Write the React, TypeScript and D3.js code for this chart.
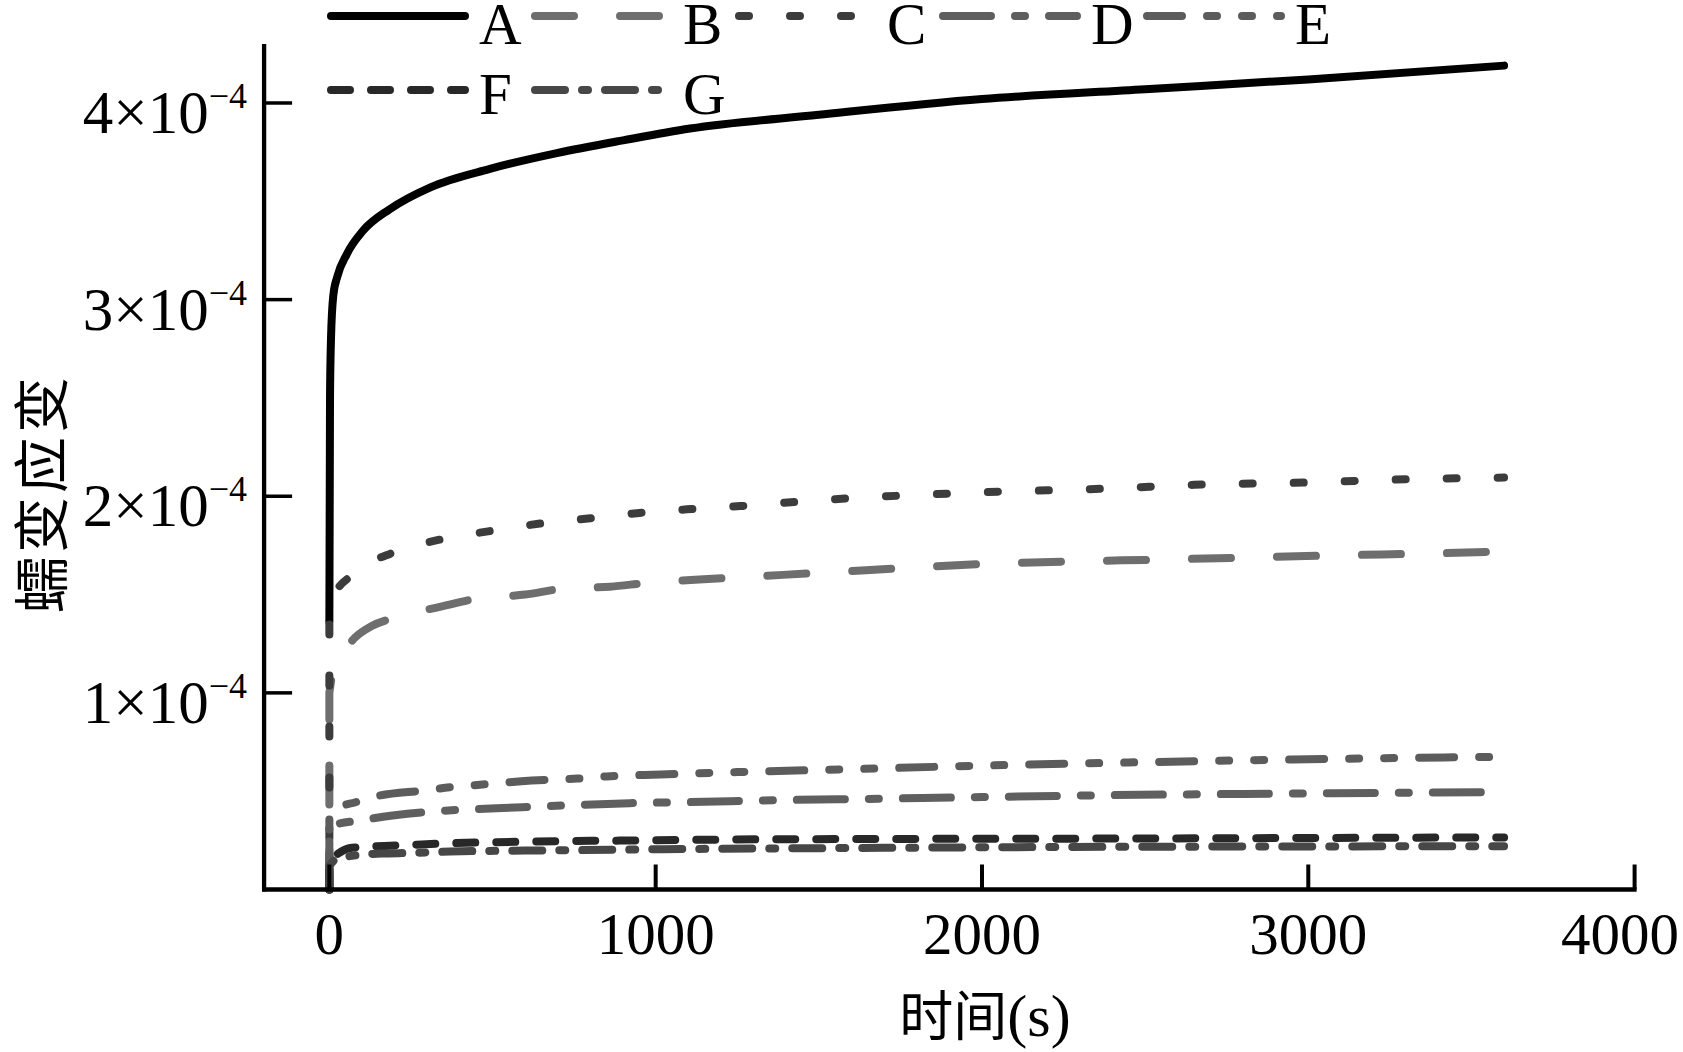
import React from 'react';
import * as d3 from 'd3';

// ---------- data ----------
const seriesNames = ['A', 'B', 'C', 'D', 'E', 'F', 'G'];

const timeA = [0, 2, 5, 12, 25, 53, 103, 185, 308, 492, 697, 900, 1105, 1500, 2000, 2500, 3000, 3600];
const strainA = [1.36e-4, 2.5e-4, 2.8e-4, 3.02e-4, 3.12e-4, 3.23e-4, 3.35e-4, 3.46e-4, 3.57e-4, 3.665e-4, 3.745e-4, 3.81e-4, 3.87e-4, 3.94e-4, 4.02e-4, 4.07e-4, 4.12e-4, 4.19e-4];

const timeB = [0, 0, 11, 40, 78, 130, 195, 345, 455, 600, 717, 860, 977, 1120, 1500, 2000, 2600, 2850, 3100, 3400, 3600];
const strainB = [0, 1.0e-4, 1.11e-4, 1.2e-4, 1.28e-4, 1.34e-4, 1.38e-4, 1.44e-4, 1.48e-4, 1.5e-4, 1.53e-4, 1.54e-4, 1.56e-4, 1.575e-4, 1.61e-4, 1.655e-4, 1.68e-4, 1.69e-4, 1.7e-4, 1.71e-4, 1.72e-4];

const timeC = [0, 0, 30, 63, 110, 190, 340, 500, 650, 800, 950, 1110, 1260, 1500, 2000, 2400, 2650, 3000, 3300, 3600];
const strainC = [0, 1.45e-4, 1.54e-4, 1.59e-4, 1.65e-4, 1.71e-4, 1.78e-4, 1.825e-4, 1.862e-4, 1.888e-4, 1.915e-4, 1.935e-4, 1.95e-4, 1.98e-4, 2.02e-4, 2.04e-4, 2.058e-4, 2.07e-4, 2.086e-4, 2.095e-4];

const timeD = [0, 0, 20, 90, 200, 345, 425, 590, 760, 920, 1150, 1300, 1700, 2000, 2400, 2800, 3200, 3600];
const strainD = [0, 3.0e-5, 3.3e-5, 3.5e-5, 3.78e-5, 4.0e-5, 4.07e-5, 4.18e-5, 4.3e-5, 4.39e-5, 4.46e-5, 4.52e-5, 4.62e-5, 4.7e-5, 4.8e-5, 4.86e-5, 4.91e-5, 4.95e-5];

const timeE = [0, 0, 20, 80, 155, 287, 370, 470, 620, 760, 850, 1015, 1250, 1600, 2000, 2450, 2950, 3330, 3600];
const strainE = [0, 3.8e-5, 4.1e-5, 4.44e-5, 4.78e-5, 5.03e-5, 5.2e-5, 5.34e-5, 5.54e-5, 5.64e-5, 5.75e-5, 5.85e-5, 5.97e-5, 6.12e-5, 6.3e-5, 6.46e-5, 6.61e-5, 6.7e-5, 6.75e-5];

const timeF = [0, 0, 20, 60, 130, 250, 370, 490, 730, 975, 1215, 1700, 2400, 3000, 3600];
const strainF = [0, 1.5e-5, 1.75e-5, 2.1e-5, 2.19e-5, 2.27e-5, 2.35e-5, 2.4e-5, 2.46e-5, 2.5e-5, 2.54e-5, 2.57e-5, 2.59e-5, 2.62e-5, 2.65e-5];

const timeG = [0, 0, 20, 55, 160, 250, 370, 600, 880, 1020, 1180, 1700, 2400, 3000, 3600];
const strainG = [0, 1.2e-5, 1.55e-5, 1.68e-5, 1.83e-5, 1.86e-5, 1.93e-5, 1.98e-5, 2.02e-5, 2.05e-5, 2.07e-5, 2.12e-5, 2.17e-5, 2.19e-5, 2.2e-5];

const xTicks = [0, 1000, 2000, 3000, 4000];
const yTickMantissas = [1, 2, 3, 4];
const yTickExponent = -4;

const xTitle = '时间';
const xTitleUnit = '(s)';
const yTitle = '蠕变应变';

// ---------- styles ----------
const colors = ['#000000', '#6e6e6e', '#3c3c3c', '#5f5f5f', '#5c5c5c', '#282828', '#474747'];
const dashes = ['', '39 46', '10 41', '48 24 10 24', '35 25 10 25 10 25', '19 21', '30 17 6 17'];

const times = [timeA, timeB, timeC, timeD, timeE, timeF, timeG];
const strains = [strainA, strainB, strainC, strainD, strainE, strainF, strainG];

const W = 1683;
const H = 1052;
const SERIF = '"Liberation Serif", "Times New Roman", serif';
const CJK = '"Noto Sans CJK SC", sans-serif';

export default function App() {
  const x = d3.scaleLinear().domain([-200, 4000]).range([264.1, 1634.6]);
  const y = d3.scaleLinear().domain([0, 4.3e-4]).range([889.5, 44]);

  const lineGen = d3.line<[number, number]>().curve(d3.curveMonotoneX);

  const buildPath = (ts: number[], es: number[]) => {
    let k = 0;
    while (k + 1 < ts.length && ts[k + 1] === ts[0]) k++;
    const head = ts.slice(0, k + 1).map((t, i) => `${x(t)},${y(es[i])}`);
    const tailPts: [number, number][] = ts.slice(k).map((t, i) => [x(t), y(es[i + k])]);
    const tail = (lineGen(tailPts) || '').replace(/^M[^CLZ]*/, '');
    return 'M' + head.join('L') + tail;
  };

  const axisY0 = y(0);
  const axisX0 = x(-200);
  const axisX1 = x(4000);
  const axisTop = y(4.3e-4);

  const legendStartX = 327;
  const legendStep = 204;
  const legendRowsLineY = [16, 90];
  const legendRowsTextY = [44, 114];
  const perRow = 5;

  return (
    <div style={{ position: 'absolute', left: 0, top: 0, width: W, height: H, background: '#fff' }}>
      <svg width={W} height={H} viewBox={`0 0 ${W} ${H}`} style={{ display: 'block' }}>
        <rect x={0} y={0} width={W} height={H} fill="#fff" />

        {/* curves */}
        {seriesNames.map((name, i) => (
          <path
            key={name}
            d={buildPath(times[i], strains[i])}
            fill="none"
            stroke={colors[i]}
            strokeWidth={8}
            strokeLinecap="round"
            strokeLinejoin="round"
            strokeDasharray={dashes[i] || undefined}
          />
        ))}

        {/* axes */}
        <line x1={axisX0} y1={axisTop} x2={axisX0} y2={axisY0 + 2} stroke="#000" strokeWidth={4.3} />
        <line x1={axisX0 - 2} y1={axisY0} x2={axisX1 + 2} y2={axisY0} stroke="#000" strokeWidth={4.3} />

        {xTicks.map((t, i) => {
          const last = i === xTicks.length - 1;
          return (
            <g key={t}>
              <line x1={x(t)} y1={axisY0} x2={x(t)} y2={axisY0 - 25} stroke="#000" strokeWidth={4} />
              <text
                x={last ? W - 4 : x(t)}
                y={954}
                textAnchor={last ? 'end' : 'middle'}
                fontFamily={SERIF}
                fontSize={59}
              >
                {t}
              </text>
            </g>
          );
        })}

        {yTickMantissas.map((m) => {
          const v = m * Math.pow(10, yTickExponent);
          const ty = y(v);
          return (
            <g key={m}>
              <line x1={axisX0} y1={ty} x2={axisX0 + 28} y2={ty} stroke="#000" strokeWidth={3.5} />
              <text x={247} y={ty + 30} textAnchor="end" fontFamily={SERIF} fontSize={61}>
                <tspan>{`${m}×10`}</tspan>
                <tspan fontSize={36} dy={-25}>{`−${Math.abs(yTickExponent)}`}</tspan>
              </text>
            </g>
          );
        })}

        {/* axis titles */}
        <text x={985} y={1036} textAnchor="middle" fontSize={54}>
          <tspan fontFamily={CJK}>{xTitle}</tspan>
          <tspan fontFamily={SERIF} fontSize={60}>{xTitleUnit}</tspan>
        </text>
        <text
          transform={`translate(37,493) rotate(-90)`}
          textAnchor="middle"
          dominantBaseline="central"
          fontFamily={CJK}
          fontSize={56}
          letterSpacing={4}
        >
          {yTitle}
        </text>

        {/* legend */}
        {seriesNames.map((name, i) => {
          const row = Math.floor(i / perRow);
          const col = i % perRow;
          const lx = legendStartX + col * legendStep;
          const ly = legendRowsLineY[row];
          return (
            <g key={`lg-${name}`}>
              <line
                x1={lx + 4}
                y1={ly}
                x2={lx + 138}
                y2={ly}
                stroke={colors[i]}
                strokeWidth={8}
                strokeLinecap="round"
                strokeDasharray={dashes[i] || undefined}
              />
              <text x={lx + 152} y={legendRowsTextY[row]} fontFamily={SERIF} fontSize={59}>
                {name}
              </text>
            </g>
          );
        })}
      </svg>
    </div>
  );
}
